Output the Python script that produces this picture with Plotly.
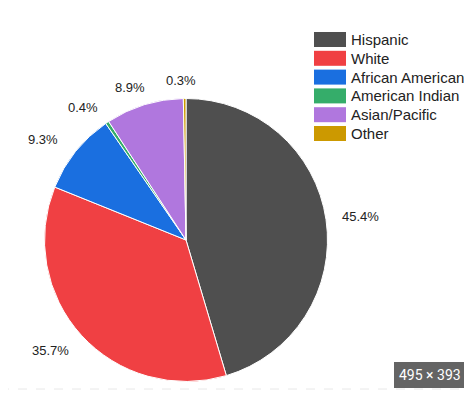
import math
import plotly.graph_objects as go

labels = ["Hispanic", "White", "African American", "American Indian", "Asian/Pacific", "Other"]
values = [45.4, 35.7, 9.3, 0.4, 8.9, 0.3]
colors = ["#4f4f4f", "#f04043", "#1a6fe0", "#35ad6a", "#b077de", "#cc9900"]

# The page body has an 8px default margin; lay out in window pixels.
OFF = 8
W, H = 472 - OFF, 395 - OFF

def px_x(x):
    return (x - OFF) / W

def px_y(y):
    return 1 - (y - OFF) / H

FONT = "Arial, Liberation Sans, sans-serif"

# pie geometry (window pixels)
CX, CY, R = 186, 240, 141.5

fig = go.Figure()
fig.add_trace(go.Pie(
    labels=labels,
    values=values,
    sort=False,
    direction="clockwise",
    rotation=0,
    marker=dict(colors=colors, line=dict(color="white", width=1)),
    textinfo="none",
    showlegend=False,
    domain=dict(x=[px_x(CX - R), px_x(CX + R)], y=[px_y(CY + R), px_y(CY - R)]),
    hoverinfo="label+percent",
))

shapes = []
annotations = []

# outside percentage labels placed at each slice's mid angle
total = sum(values)
cum = 0.0
LR = 160
for v in values:
    mid = (cum + v / 2) / total * 2 * math.pi
    cum += v
    s, c = math.sin(mid), -math.cos(mid)
    tx = CX + (LR + 19) * s - 3
    ty = CY + LR * c + (3 if c > 0.5 else 0)
    annotations.append(dict(xref="paper", yref="paper", x=px_x(tx), y=px_y(ty),
                            text=f"{v / total * 100:.1f}%", showarrow=False,
                            xanchor="center", yanchor="middle",
                            font=dict(family=FONT, size=13, color="#222222")))

# legend
for i, (lab, col) in enumerate(zip(labels, colors)):
    top = 32 + i * 18.8
    shapes.append(dict(type="rect", xref="paper", yref="paper",
                       x0=px_x(314), x1=px_x(346), y0=px_y(top + 15), y1=px_y(top),
                       fillcolor=col, line=dict(width=0)))
    annotations.append(dict(xref="paper", yref="paper", x=px_x(349), y=px_y(top + 7.5),
                            text=lab, showarrow=False, xanchor="left", yanchor="middle",
                            font=dict(family=FONT, size=15, color="#222222")))

# bottom dashed line and size badge from the screenshot
shapes.append(dict(type="line", xref="paper", yref="paper", x0=px_x(0), x1=1,
                   y0=px_y(389), y1=px_y(389), line=dict(color="#e8e8e8", width=1, dash="dash")))
shapes.append(dict(type="rect", xref="paper", yref="paper",
                   x0=px_x(394), x1=px_x(465), y0=px_y(388), y1=px_y(362),
                   fillcolor="#646464", line=dict(width=0)))
annotations.append(dict(xref="paper", yref="paper", x=px_x(429.5), y=px_y(375),
                        text="495 × 393", showarrow=False, xanchor="center", yanchor="middle",
                        font=dict(family="Roboto, Arial, sans-serif", size=14, color="white")))

fig.update_layout(
    width=W, height=H,
    margin=dict(l=0, r=0, t=0, b=0),
    paper_bgcolor="white",
    plot_bgcolor="white",
    shapes=shapes,
    annotations=annotations,
)

fig.write_html("out.html")
